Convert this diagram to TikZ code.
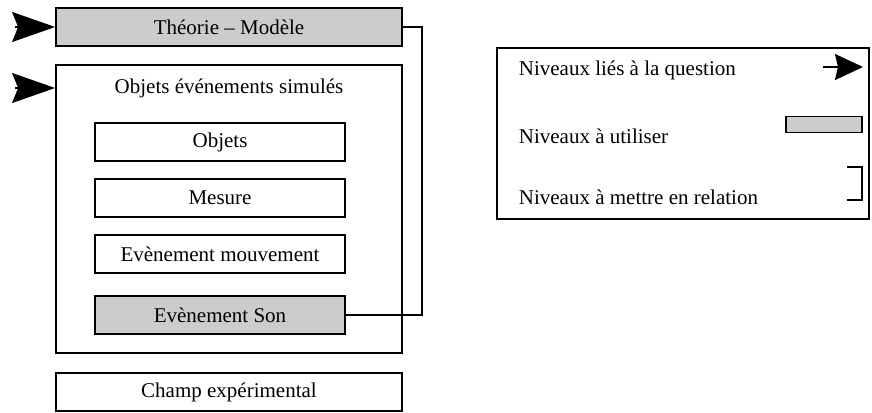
\documentclass[tikz,border=0pt]{standalone}
\usepackage{fontspec}
\setmainfont{Liberation Serif}
\usepackage{xcolor}
\usetikzlibrary{arrows.meta,positioning}

\definecolor{levelgray}{HTML}{CCCCCC}

\begin{document}
\begin{tikzpicture}[x=0.5pt,y=-0.5pt,line width=0.9pt,
  font=\fontsize{10.5}{12}\selectfont,
  outerbox/.style={draw,minimum width=173pt,minimum height=19pt,inner sep=0pt},
  innerbox/.style={draw,minimum width=125pt,minimum height=19pt,inner sep=0pt},
  usedbox/.style={fill=levelgray},
  bigarrow/.style={-{Stealth[length=21.5pt,width=15pt,inset=3pt]}},
  smallarrow/.style={-{Stealth[length=14pt,width=13pt,inset=1.5pt]}},
  legendtext/.style={anchor=west,inner sep=0pt}]
\useasboundingbox (0,0) rectangle (872,412);

% Levels (left)
\node[outerbox,usedbox] (theorie) at (229,27) {Théorie – Modèle};
\node[draw,minimum width=173pt,minimum height=144pt,inner sep=0pt] (simules) at (229,209) {};
\node (simtitle) at (229,88) {Objets événements simulés};
\node[innerbox] (objets) at (220,142) {Objets};
\node[innerbox] (mesure) at (220,198) {Mesure};
\node[innerbox] (mouvement) at (220,254) {Evènement mouvement};
\node[innerbox,usedbox] (son) at (220,315) {Evènement Son};
\node[outerbox] (champ) at (229,392) {Champ expérimental};

% Question arrows
\coordinate (qa) at (15,27);
\coordinate (qb) at (15,88);
\draw[bigarrow] (qa) -- (theorie.west);
\draw[bigarrow] (qb) -- (theorie.west |- qb);

% Relation bracket
\draw (theorie.east) -- ++(19,0) |- (son.east);

% Legend (right)
\node[draw,minimum width=186pt,minimum height=85.5pt,inner sep=0pt] (legend) at (683,133.5) {};
\node[legendtext] (lq) at (518,70) {Niveaux liés à la question};
\node[legendtext] (lu) at (518,136) {Niveaux à utiliser};
\node[legendtext] (lr) at (518,197) {Niveaux à mettre en relation};
\coordinate (la) at (823,67);
\coordinate (lb) at (863,67);
\draw[smallarrow] (la) -- (lb);
\node[draw,usedbox,minimum width=38pt,minimum height=8pt,inner sep=0pt] (lgray) at (824,124.5) {};
\coordinate (ra) at (847,167);
\coordinate (rb) at (847,200);
\draw (ra) -- ++(15,0) |- (rb);
\end{tikzpicture}
\end{document}
